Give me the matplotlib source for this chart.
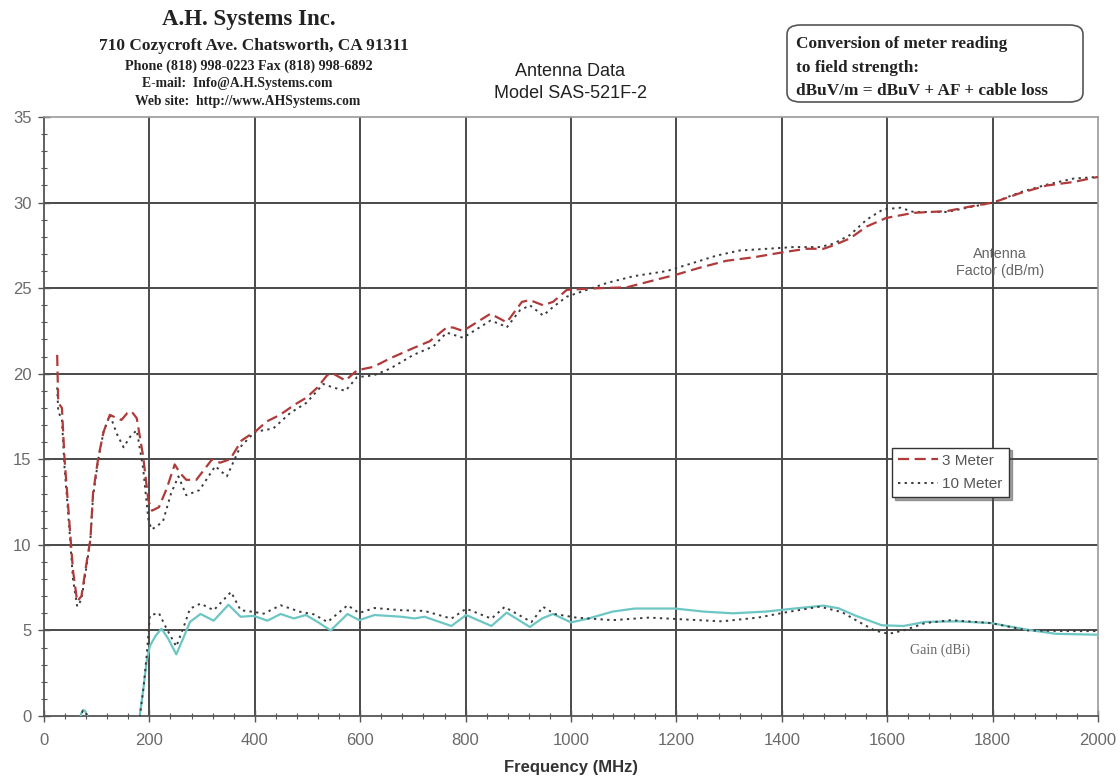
import matplotlib
matplotlib.use("Agg")
import matplotlib.pyplot as plt
from matplotlib.patches import FancyBboxPatch
from matplotlib.ticker import MultipleLocator

# ---------------- data ----------------
af3_f = [25, 27, 34, 39, 46, 55, 63, 71, 81, 88, 93, 103, 113, 125, 138, 147, 158, 166, 176, 188,
         198, 205, 218, 233, 248, 258, 270, 289, 304, 319, 334, 353, 375, 404, 422, 448, 476, 498,
         519, 537, 549, 572, 594, 625, 657, 701, 732, 764, 776, 795, 821, 847, 866, 878, 907, 922,
         947, 966, 992, 1055, 1106, 1150, 1201, 1245, 1295, 1346, 1403, 1447, 1479, 1498, 1529,
         1561, 1598, 1650, 1713, 1763, 1801, 1852, 1903, 1953, 2000]
af3_v = [21.1, 18.3, 18.0, 15.0, 12.2, 8.5, 6.7, 7.0, 9.0, 10.3, 13.0, 15.1, 16.6, 17.6, 17.4, 17.3,
         17.7, 17.8, 17.4, 15.2, 12.6, 12.0, 12.2, 13.3, 14.7, 14.2, 13.8, 13.8, 14.4, 15.0, 14.8,
         15.0, 16.1, 16.7, 17.2, 17.6, 18.2, 18.6, 19.2, 19.9, 20.0, 19.6, 20.2, 20.4, 20.9, 21.5,
         21.9, 22.7, 22.7, 22.5, 23.0, 23.5, 23.2, 23.0, 24.2, 24.3, 24.0, 24.2, 24.9, 25.0, 25.05,
         25.4, 25.8, 26.2, 26.6, 26.8, 27.1, 27.3, 27.3, 27.5, 27.9, 28.6, 29.1, 29.4, 29.5, 29.8,
         30.0, 30.55, 31.0, 31.2, 31.5]

af10_f = [25, 27, 34, 39, 46, 55, 63, 71, 81, 88, 93, 103, 113, 125, 138, 151, 163, 176, 188, 198,
          204, 215, 226, 241, 255, 270, 295, 325, 347, 372, 400, 435, 467, 498, 530, 548, 572, 594,
          625, 657, 701, 739, 764, 795, 821, 847, 866, 878, 903, 922, 947, 966, 992, 1030, 1068,
          1119, 1182, 1245, 1276, 1320, 1372, 1422, 1472, 1498, 1529, 1561, 1592, 1625, 1650, 1713,
          1776, 1801, 1852, 1903, 1953, 2000]
af10_v = [19.2, 17.8, 17.3, 14.5, 11.8, 8.0, 6.4, 6.8, 8.8, 10.3, 12.8, 15.0, 16.6, 17.6, 16.5, 15.7,
          16.3, 16.7, 14.5, 11.5, 10.9, 11.1, 11.4, 13.0, 14.0, 12.9, 13.2, 14.6, 14.0, 15.7, 16.6,
          16.8, 17.7, 18.3, 19.4, 19.2, 19.0, 19.8, 19.9, 20.3, 21.1, 21.6, 22.4, 22.1, 22.6, 23.1,
          22.9, 22.7, 23.7, 24.0, 23.4, 23.9, 24.5, 24.9, 25.3, 25.7, 26.0, 26.6, 26.9, 27.2, 27.3,
          27.4, 27.4, 27.6, 28.1, 29.0, 29.6, 29.7, 29.45, 29.45, 29.85, 30.0, 30.6, 31.05, 31.4, 31.5]

gain3_f = [25, 66, 70, 74, 78, 82, 86, 178, 182, 189, 195, 201, 212, 223, 236, 251, 265, 277, 297,
           322, 350, 373, 398, 424, 449, 474, 497, 519, 544, 576, 598, 627, 678, 703, 722, 773, 801,
           849, 878, 922, 945, 966, 1000, 1031, 1079, 1121, 1197, 1252, 1307, 1369, 1424, 1479,
           1507, 1541, 1590, 1631, 1672, 1734, 1797, 1866, 1921, 2000]
gain3_v = [-2.0, -2.0, 0.1, 0.35, 0.3, 0.0, -2.0, -2.0, 0.1, 1.7, 3.24, 4.1, 4.7, 5.1, 4.5, 3.6, 4.6,
           5.5, 5.96, 5.57, 6.5, 5.8, 5.85, 5.57, 5.96, 5.7, 5.9, 5.5, 5.0, 5.96, 5.6, 5.9, 5.8, 5.7,
           5.8, 5.26, 5.9, 5.26, 6.04, 5.2, 5.7, 5.96, 5.47, 5.68, 6.1, 6.28, 6.28, 6.1, 6.0, 6.1,
           6.28, 6.45, 6.3, 5.85, 5.3, 5.26, 5.5, 5.53, 5.43, 5.04, 4.8, 4.75]

gain10_f = [25, 66, 70, 74, 78, 82, 86, 178, 182, 189, 195, 201, 218, 231, 251, 265, 277, 297, 322,
            355, 373, 398, 417, 449, 487, 512, 538, 576, 598, 627, 678, 722, 773, 801, 849, 874, 925,
            947, 969, 1010, 1079, 1148, 1217, 1286, 1355, 1410, 1472, 1514, 1548, 1576, 1603, 1631,
            1672, 1721, 1797, 1866, 1941, 2000]
gain10_v = [-2.0, -2.0, 0.1, 0.3, 0.3, 0.0, -2.0, -2.0, 0.0, 1.7, 3.6, 5.88, 6.02, 5.2, 4.06, 5.2,
            6.27, 6.57, 6.18, 7.25, 6.18, 6.08, 5.98, 6.47, 6.08, 5.94, 5.49, 6.47, 6.02, 6.31, 6.18,
            6.14, 5.69, 6.27, 5.69, 6.37, 5.49, 6.38, 5.96, 5.75, 5.6, 5.75, 5.64, 5.53, 5.75, 6.07,
            6.39, 6.07, 5.47, 5.0, 4.8, 5.0, 5.43, 5.6, 5.43, 5.0, 4.96, 4.96]

x_ticks = [0, 200, 400, 600, 800, 1000, 1200, 1400, 1600, 1800, 2000]
y_ticks = [0, 5, 10, 15, 20, 25, 30, 35]

# ---------------- figure ----------------
fig = plt.figure(figsize=(11.2, 7.81), dpi=100)
ax = fig.add_axes([44 / 1120, 65 / 781, 1054 / 1120, 599 / 781])

ax.set_xlim(0, 2000)
ax.set_ylim(0, 35)
ax.set_xticks(x_ticks)
ax.set_yticks(y_ticks)
ax.xaxis.set_minor_locator(MultipleLocator(40))
ax.yaxis.set_minor_locator(MultipleLocator(1))

grid_c = '#4a4a4a'
for xv in x_ticks[1:-1]:
    ax.axvline(xv, color=grid_c, lw=1.4, zorder=1)
for yv in y_ticks[1:-1]:
    ax.axhline(yv, color=grid_c, lw=1.4, zorder=1)

for s in ['top', 'right']:
    ax.spines[s].set_color('#9a9a9a')
    ax.spines[s].set_linewidth(1.2)
for s in ['left', 'bottom']:
    ax.spines[s].set_color('#555555')
    ax.spines[s].set_linewidth(1.3)

ax.tick_params(axis='both', which='major', direction='inout', length=8, width=1.0,
               color='#555555', labelcolor='#6a6a6a', labelsize=12)
ax.tick_params(axis='both', which='minor', direction='inout', length=4, width=0.8, color='#555555')
ax.tick_params(axis='x', pad=8)
ax.tick_params(axis='y', pad=5)
for lab in ax.get_xticklabels() + ax.get_yticklabels():
    lab.set_family('Liberation Sans')

red_c = '#b03a3a'
dot_c = '#3a3a3a'
cyan_c = '#6cc6c4'

ax.plot(gain3_f, gain3_v, color=cyan_c, lw=1.6, zorder=3)
ax.plot(gain10_f, gain10_v, color=dot_c, lw=1.4, linestyle=(0, (1.2, 2.2)), zorder=3)
l3, = ax.plot(af3_f, af3_v, color=red_c, lw=1.6, linestyle=(0, (5, 2.5)), zorder=4, label='3 Meter')
l10, = ax.plot(af10_f, af10_v, color=dot_c, lw=1.4, linestyle=(0, (1.2, 2.2)), zorder=3, label='10 Meter')

ax.set_xlabel('Frequency (MHz)', fontsize=12, fontweight='bold', color='#333333',
              family='Liberation Sans', labelpad=9)

leg = ax.legend(handles=[l3, l10], loc='upper left', bbox_to_anchor=(0.8045, 0.448),
                frameon=True, fancybox=False, shadow=True, fontsize=11,
                handlelength=2.6, handletextpad=0.3, borderpad=0.4, labelspacing=0.6,
                borderaxespad=0)
leg.get_frame().set_edgecolor('#333333')
leg.get_frame().set_linewidth(1.0)
for t in leg.get_texts():
    t.set_color('#555555')
    t.set_family('Liberation Sans')

ax.text(1814, 26.5, 'Antenna\nFactor (dB/m)', ha='center', va='center', fontsize=10.4,
        color='#666666', family='Liberation Sans', linespacing=1.25)
ax.text(1700, 3.86, 'Gain (dBi)', ha='center', va='center', fontsize=10,
        color='#666666', family='Liberation Serif')

# ---------------- header texts ----------------
hc = '#222222'
fig.text(249 / 1120, 1 - 20 / 781, 'A.H. Systems Inc.', ha='center', va='center',
         fontsize=16.5, fontweight='bold', family='Liberation Serif', color=hc)
fig.text(254 / 1120, 1 - 46 / 781, '710 Cozycroft Ave. Chatsworth, CA 91311', ha='center',
         va='center', fontsize=12.4, fontweight='bold', family='Liberation Serif', color=hc)
fig.text(249 / 1120, 1 - 66 / 781, 'Phone (818) 998-0223 Fax (818) 998-6892', ha='center',
         va='center', fontsize=10.2, fontweight='bold', family='Liberation Serif', color=hc)
fig.text(237 / 1120, 1 - 84 / 781, 'E-mail:  Info@A.H.Systems.com', ha='center',
         va='center', fontsize=9.8, fontweight='bold', family='Liberation Serif', color=hc)
fig.text(248 / 1120, 1 - 101 / 781, 'Web site:  http://www.AHSystems.com', ha='center',
         va='center', fontsize=9.8, fontweight='bold', family='Liberation Serif', color=hc)

fig.text(570 / 1120, 1 - 71 / 781, 'Antenna Data', ha='center', va='center', fontsize=13,
         family='Liberation Sans', color=hc)
fig.text(570 / 1120, 1 - 94 / 781, 'Model SAS-521F-2', ha='center', va='center', fontsize=13,
         family='Liberation Sans', color=hc)

box = FancyBboxPatch((787 / 1120, 1 - 102 / 781), 296 / 1120, 77 / 781,
                     boxstyle='round,pad=0,rounding_size=0.012', transform=fig.transFigure,
                     facecolor='white', edgecolor='#555555', linewidth=1.2)
fig.patches.append(box)
for i, line in enumerate(['Conversion of meter reading', 'to field strength:',
                          'dBuV/m = dBuV + AF + cable loss']):
    fig.text(796 / 1120, 1 - (44 + 23.5 * i) / 781, line, ha='left', va='center', fontsize=12.4,
             fontweight='bold', family='Liberation Serif', color=hc)

fig.savefig('out.png', dpi=100)
